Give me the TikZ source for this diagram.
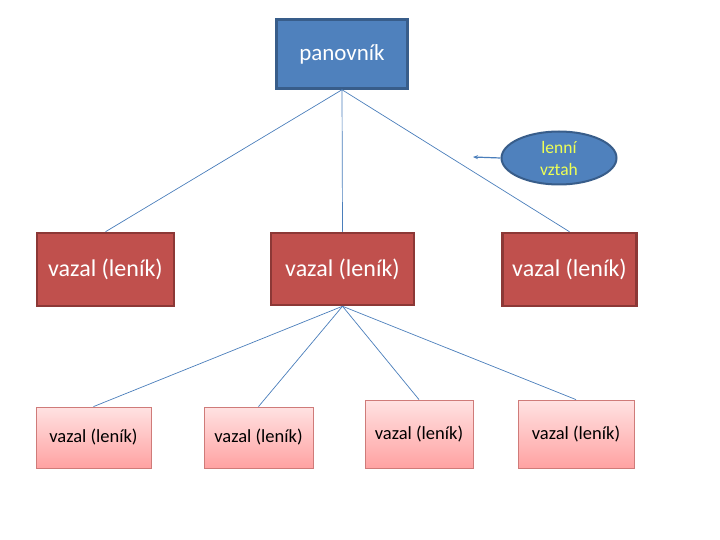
\documentclass[tikz,border=0pt]{standalone}
\usepackage{fontspec}
\setmainfont{Carlito}
\usetikzlibrary{shapes.geometric,shadings,arrows.meta}
\definecolor{bluefill}{HTML}{4F81BD}
\definecolor{blueline}{HTML}{385D8A}
\definecolor{redfill}{HTML}{C0504D}
\definecolor{redline}{HTML}{8C3836}
\definecolor{pinktop}{HTML}{FFE2E2}
\definecolor{pinkbot}{HTML}{FFA2A2}
\definecolor{pinkline}{HTML}{CF7B79}
\definecolor{conn}{HTML}{4A7EBB}
\definecolor{yel}{HTML}{EEFF55}
\tikzset{
  bluebox/.style={draw=blueline, line width=2.5pt, fill=bluefill, text=white, font=\fontsize{23}{27}\selectfont, inner sep=0pt},
  redbox/.style={draw=redline, line width=2.5pt, fill=redfill, text=white, font=\fontsize{24}{28}\selectfont, inner sep=0pt},
  pinkbox/.style={draw=pinkline, line width=0.8pt, top color=pinktop, bottom color=pinkbot, text=black, font=\fontsize{18.5}{22}\selectfont, inner sep=0pt},
  oval/.style={ellipse, draw=blueline, line width=2pt, fill=bluefill, text=yel, font=\fontsize{17.5}{22}\selectfont, align=center, inner sep=0pt},
  link/.style={draw=conn, line width=0.7pt}
}
\begin{document}
\begin{tikzpicture}[x=1pt,y=-1pt]
\useasboundingbox (0,0) rectangle (720,540);
\node[bluebox, minimum width=131pt, minimum height=69pt] (king) at (342,54) {panovník};
\node[oval, minimum width=115pt, minimum height=53pt] (rel) at (559,158) {lenní\\vztah};
\coordinate (relend) at (473,157);
\node[redbox, minimum width=137pt, minimum height=73pt] (v1) at (105.5,269.5) {vazal (leník)};
\node[redbox, minimum width=143pt, minimum height=72pt] (v2) at (342.5,269) {vazal (leník)};
\node[redbox, minimum width=134pt, minimum height=73pt] (v3) at (569.5,269.5) {vazal (leník)};
\node[pinkbox, minimum width=115pt, minimum height=61pt] (b1) at (93.5,437.5) {vazal (leník)};
\node[pinkbox, minimum width=109pt, minimum height=61pt] (b2) at (258.5,437.5) {vazal (leník)};
\node[pinkbox, minimum width=108pt, minimum height=68pt] (b3) at (419,434) {vazal (leník)};
\node[pinkbox, minimum width=116pt, minimum height=68pt] (b4) at (576,434) {vazal (leník)};
\draw[link] (king.south) -- (v1.north);
\draw[link] (king.south) -- (v2.north);
\draw[link] (king.south) -- (v3.north);
\draw[link] (v2.south) -- (b1.north);
\draw[link] (v2.south) -- (b2.north);
\draw[link] (v2.south) -- (b3.north);
\draw[link] (v2.south) -- (b4.north);
\draw[draw=conn, line width=1.2pt, -{Stealth[length=5pt,width=4pt]}] (rel.west) -- (relend);
\end{tikzpicture}
\end{document}
